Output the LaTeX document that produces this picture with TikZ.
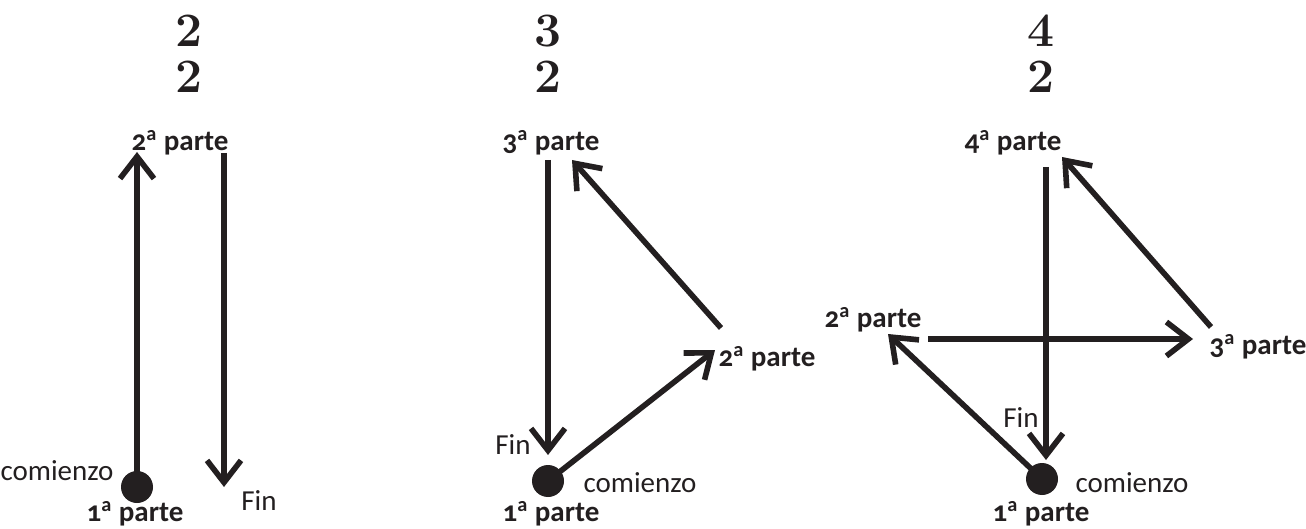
\documentclass[tikz,border=0pt]{standalone}
\usepackage{fontspec}
\newfontfamily\partfont[Numbers=OldStyle]{Carlito}
\usetikzlibrary{arrows.meta}
\definecolor{ink}{HTML}{231F20}
\newcommand{\ord}{\textsuperscript{a}}

\begin{document}
\begin{tikzpicture}[x=0.5pt, y=-0.5pt, line width=2.8pt, color=ink,
    flow/.style={-{Straight Barb[length=11pt, width=17pt]}},
    part/.style={font=\partfont\bfseries\fontsize{14.5}{16}\selectfont, inner sep=0pt},
    note/.style={font=\partfont\fontsize{14.5}{16}\selectfont, inner sep=0pt},
    title/.style={font=\bfseries\fontsize{24}{24}\selectfont, inner sep=0pt},
    dot/.style={circle, fill=ink, inner sep=0pt, minimum size=16pt}]
    \useasboundingbox (0,0) rectangle (1306,529);

    % dos partes
    \node[title] (t1n) at (189,31) {2};
    \node[title] (t1d) at (189,77) {2};
    \node[part] (p1b) at (180,143) {2\ord\ parte};
    \node[dot] (d1) at (137,487) {};
    \node[part] (p1a) at (135,514) {1\ord\ parte};
    \node[note] (s1) at (57,471) {comienzo};
    \node[note] (f1) at (259,501) {Fin};
    \coordinate (u1) at (137,152);
    \coordinate (v1) at (224,153);
    \coordinate (w1) at (224,487);
    \draw[flow] (d1.center) -- (u1);
    \draw[flow] (v1) -- (w1);

    % tres partes
    \node[title] (t2n) at (548,31) {3};
    \node[title] (t2d) at (548,77) {2};
    \node[part] (p2c) at (551,143) {3\ord\ parte};
    \node[dot] (d2) at (548,481) {};
    \node[part] (p2a) at (551,514) {1\ord\ parte};
    \node[part] (p2b) at (767,359) {2\ord\ parte};
    \node[note] (s2) at (640,483) {comienzo};
    \node[note] (f2) at (513,445) {Fin};
    \coordinate (a2) at (715,350);
    \coordinate (b2) at (721,328);
    \coordinate (c2) at (572,160);
    \coordinate (e2) at (548,160);
    \coordinate (g2) at (548,455);
    \draw[flow] (d2.center) -- (a2);
    \draw[flow] (b2) -- (c2);
    \draw[flow] (e2) -- (g2);

    % cuatro partes
    \node[title] (t3n) at (1041,31) {4};
    \node[title] (t3d) at (1041,77) {2};
    \node[part] (p3d) at (1013,143) {4\ord\ parte};
    \node[dot] (d3) at (1042,479) {};
    \node[part] (p3a) at (1041,514) {1\ord\ parte};
    \node[part] (p3b) at (873,320) {2\ord\ parte};
    \node[part] (p3c) at (1258,347) {3\ord\ parte};
    \node[note] (s3) at (1132,483) {comienzo};
    \node[note] (f3) at (1021,418) {Fin};
    \coordinate (a3) at (888,334);
    \coordinate (b3) at (928,339);
    \coordinate (c3) at (1193,339);
    \coordinate (e3) at (1211,327);
    \coordinate (g3) at (1062,157);
    \coordinate (h3) at (1046,167);
    \coordinate (k3) at (1046,460);
    \draw[flow] (d3.center) -- (a3);
    \draw[flow] (b3) -- (c3);
    \draw[flow] (e3) -- (g3);
    \draw[flow] (h3) -- (k3);
  \end{tikzpicture}
\end{document}
